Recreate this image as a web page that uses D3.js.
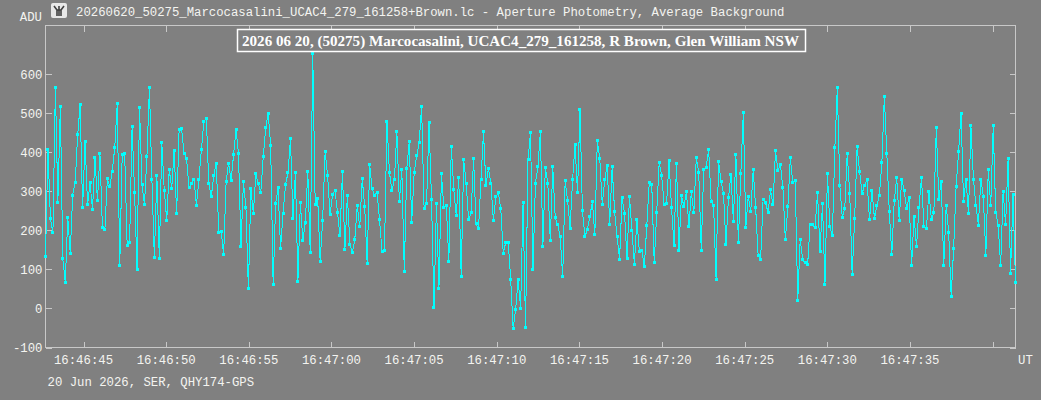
<!DOCTYPE html>
<html>
<head>
<meta charset="utf-8">
<script src="https://cdn.jsdelivr.net/npm/d3@7"></script>
<style>
  body { margin: 0; background: #808080; }
  text { font-family: "Liberation Mono", "DejaVu Sans Mono", monospace; }
</style>
</head>
<body>
<div id="chart"></div>
<script>
// light curve, one value (ADU) per video frame
const fileTitle = "20260620_50275_Marcocasalini_UCAC4_279_161258+Brown.lc - Aperture Photometry, Average Background"
const boxTitle = "2026 06 20, (50275) Marcocasalini, UCAC4_279_161258, R Brown, Glen William NSW"
const footer = "20 Jun 2026, SER, QHY174-GPS"
const firstFrame = Date.UTC(2026, 5, 20, 16, 46, 42, 700)
const frameMs = 149.7

const adu = [
  133, 407, 230, 194, 567, 273, 519, 128, 66, 234,
  141, 291, 323, 445, 522, 258, 428, 266, 322, 254,
  386, 277, 397, 207, 202, 333, 313, 352, 414, 526,
  109, 394, 398, 162, 169, 466, 298, 100, 516, 317,
  266, 391, 567, 330, 130, 340, 128, 426, 303, 226,
  357, 307, 406, 243, 458, 461, 398, 385, 309, 320,
  331, 264, 330,
  407, 480, 488, 320, 286, 341, 373, 196, 198, 138,
  326, 373, 327, 394, 458, 397, 160, 325, 259, 50,
  307, 244, 345, 320, 297, 389, 464, 499, 418, 62,
  268, 309, 154, 244, 317, 348, 435, 230, 348, 68,
  271, 175, 221, 350, 143, 655, 266, 283, 121, 226,
  402, 341, 240, 292, 302, 247, 187, 350, 150, 290,
  165, 144, 177, 264, 209, 333, 261, 115, 369, 307,
  290, 298, 228, 146, 149, 479, 349, 303, 330, 453, 274,
  356, 95, 358, 429, 221, 348, 392, 425, 517, 256,
  268, 476, 279, 2, 268, 52, 345, 259, 263, 120,
  415, 304, 238, 335, 81, 381, 321, 227, 245, 384,
  217, 205, 332, 453, 315, 359, 321, 226, 286, 297, 256, 141,
  170, 170, 74, -52, -2, 74, 1, 271, -50, 382,
  450, 100, 321, 363, 453, 158, 361, 321, 174, 363,
  233, 215, 184, 81, 327, 277, 206, 330, 420, 297,
  509, 250, 184, 203, 237, 274, 189, 430, 384, 266, 330,
  367, 216, 363, 248, 184, 126, 284, 244, 127, 286,
  199, 114, 228, 145, 149, 107, 213, 323, 319, 117,
  245, 374, 341, 267, 270, 379, 258, 161, 371, 149,
  289, 262, 300, 210, 299, 245, 386, 348, 149, 356, 362,
  407, 275, 263, 74, 377, 326, 295, 163, 284, 343,
  224, 396, 170, 345, 502, 207, 288, 248, 356, 258,
  136, 126, 280, 271, 246, 304, 266, 404, 353, 369,
  309, 176, 261, 386, 322, 327, 20, 177, 125, 117, 113,
  215, 215, 207, 297, 146, 268, 61, 345, 210, 186,
  412, 566, 315, 233, 256, 397, 296, 86, 230, 415,
  350, 295, 315, 330, 228, 303, 231, 264, 291, 374,
  544, 397, 249, 138, 276, 336, 226, 332, 303, 257, 285,
  110, 237, 158, 259, 336, 209, 204, 301, 228, 246,
  464, 280, 326, 110, 264, 195, 31, 154, 312, 403,
  501, 274, 331, 244, 468, 332, 265, 213, 331, 287,
  136, 356, 263, 468, 247, 213, 110, 301, 215, 384,
  90, 292, 67
]
const yTicks = [-100, 0, 100, 200, 300, 400, 500, 600]
const yMax = 725.6

const dataset = adu.map((v, i) => ({ time: new Date(firstFrame + i * frameMs), adu: v }))
const xAccessor = d => d.time
const yAccessor = d => d.adu

//chart dimensions
let dimensions = {
  width: 1041,
  height: 400,
  margin: { top: 25.5, right: 25.5, bottom: 52.5, left: 45.5 },
}
dimensions.boundedWidth = dimensions.width - dimensions.margin.left - dimensions.margin.right
dimensions.boundedHeight = dimensions.height - dimensions.margin.top - dimensions.margin.bottom

const mono = "'Liberation Mono', 'DejaVu Sans Mono', monospace"
const axisColor = "#c8c8c8"
const labelColor = "#f4f4f0"

const wrapper = d3.select("#chart")
  .append("svg")
  .attr("width", dimensions.width)
  .attr("height", dimensions.height)

wrapper.append("rect")
  .attr("width", dimensions.width)
  .attr("height", dimensions.height)
  .attr("fill", "#808080")

const bounds = wrapper.append("g")
  .attr("transform", `translate(${dimensions.margin.left},${dimensions.margin.top})`)

//scales
const xScale = d3.scaleUtc()
  .domain(d3.extent(dataset, xAccessor))
  .range([0, dimensions.boundedWidth])

const yScale = d3.scaleLinear()
  .domain([-100, yMax])
  .range([dimensions.boundedHeight, 0])

const xTicks = d3.utcSecond.every(5).range(...xScale.domain())
const timeFormat = d3.utcFormat("%H:%M:%S")
const lastTick = xTicks[xTicks.length - 1]

//frame + axes (ticks point inward)
bounds.append("rect")
  .attr("width", dimensions.boundedWidth)
  .attr("height", dimensions.boundedHeight)
  .attr("fill", "none")
  .attr("stroke", axisColor)
  .attr("shape-rendering", "crispEdges")

const styleAxis = g => {
  g.select(".domain").remove()
  g.selectAll(".tick line").attr("stroke", axisColor).attr("shape-rendering", "crispEdges")
}

bounds.append("g")
  .attr("transform", `translate(0,${dimensions.boundedHeight})`)
  .call(d3.axisTop(xScale).tickValues(xTicks).tickSize(6).tickFormat(""))
  .call(styleAxis)

bounds.append("g")
  .call(d3.axisBottom(xScale).tickValues(xTicks).tickSize(6).tickFormat(""))
  .call(styleAxis)

bounds.append("g")
  .call(d3.axisRight(yScale).tickValues(yTicks).tickSize(6).tickFormat(""))
  .call(styleAxis)

bounds.append("g")
  .attr("transform", `translate(${dimensions.boundedWidth},0)`)
  .call(d3.axisLeft(yScale).tickValues(yTicks).tickSize(6).tickFormat(""))
  .call(styleAxis)

const label = sel => sel
  .attr("fill", labelColor)
  .style("font-family", mono)
  .style("font-size", "12.3px")

bounds.append("g")
  .selectAll("text")
  .data(xTicks.filter(t => t < lastTick))
  .join("text")
  .attr("x", d => xScale(d))
  .attr("y", dimensions.boundedHeight + 16)
  .attr("text-anchor", "middle")
  .call(label)
  .text(timeFormat)

bounds.append("g")
  .selectAll("text")
  .data(yTicks)
  .join("text")
  .attr("x", -3)
  .attr("y", d => yScale(d))
  .attr("dy", "0.35em")
  .attr("text-anchor", "end")
  .call(label)
  .text(d => String(d))

//data
const lineGenerator = d3.line()
  .x(d => xScale(xAccessor(d)))
  .y(d => yScale(yAccessor(d)))

bounds.append("path")
  .attr("d", lineGenerator(dataset))
  .attr("fill", "none")
  .attr("stroke", "#00ffff")
  .attr("stroke-width", 1)
  .attr("shape-rendering", "crispEdges")

bounds.append("g")
  .selectAll("rect")
  .data(dataset)
  .join("rect")
  .attr("x", d => xScale(xAccessor(d)) - 1.5)
  .attr("y", d => yScale(yAccessor(d)) - 1.5)
  .attr("width", 3)
  .attr("height", 3)
  .attr("fill", "#00ffff")
  .attr("shape-rendering", "crispEdges")

//peripherals
wrapper.append("text")
  .attr("x", 42)
  .attr("y", 21)
  .attr("text-anchor", "end")
  .call(label)
  .text("ADU")

wrapper.append("text")
  .attr("x", 1018)
  .attr("y", dimensions.margin.top + dimensions.boundedHeight + 16)
  .call(label)
  .text("UT")

wrapper.append("text")
  .attr("x", 47.5)
  .attr("y", 386)
  .call(label)
  .text(footer)

//window icon
const icon = wrapper.append("g").attr("transform", "translate(51,3)")
icon.append("rect")
  .attr("width", 16).attr("height", 15).attr("rx", 2)
  .attr("fill", "#e8e8e8")
icon.append("path")
  .attr("d", "M3 3 L6 7 L6 13 M13 3 L10 7 L10 13 M6 7 L10 7 M8 3 L8 13")
  .attr("fill", "none")
  .attr("stroke", "#404040")
  .attr("stroke-width", 1.6)

wrapper.append("text")
  .attr("x", 76)
  .attr("y", 16)
  .call(label)
  .text(fileTitle)

//boxed caption
wrapper.append("rect")
  .attr("x", 237.5)
  .attr("y", 29.5)
  .attr("width", 568)
  .attr("height", 22)
  .attr("fill", "#808080")
  .attr("stroke", "#ffffff")
  .attr("stroke-width", 1.5)

wrapper.append("text")
  .attr("x", 242)
  .attr("y", 46)
  .attr("textLength", 557)
  .attr("lengthAdjust", "spacingAndGlyphs")
  .attr("fill", "#ffffff")
  .style("font-family", "'Liberation Serif', 'Times New Roman', serif")
  .style("font-weight", "bold")
  .style("font-size", "15.2px")
  .text(boxTitle)
</script>
</body>
</html>
